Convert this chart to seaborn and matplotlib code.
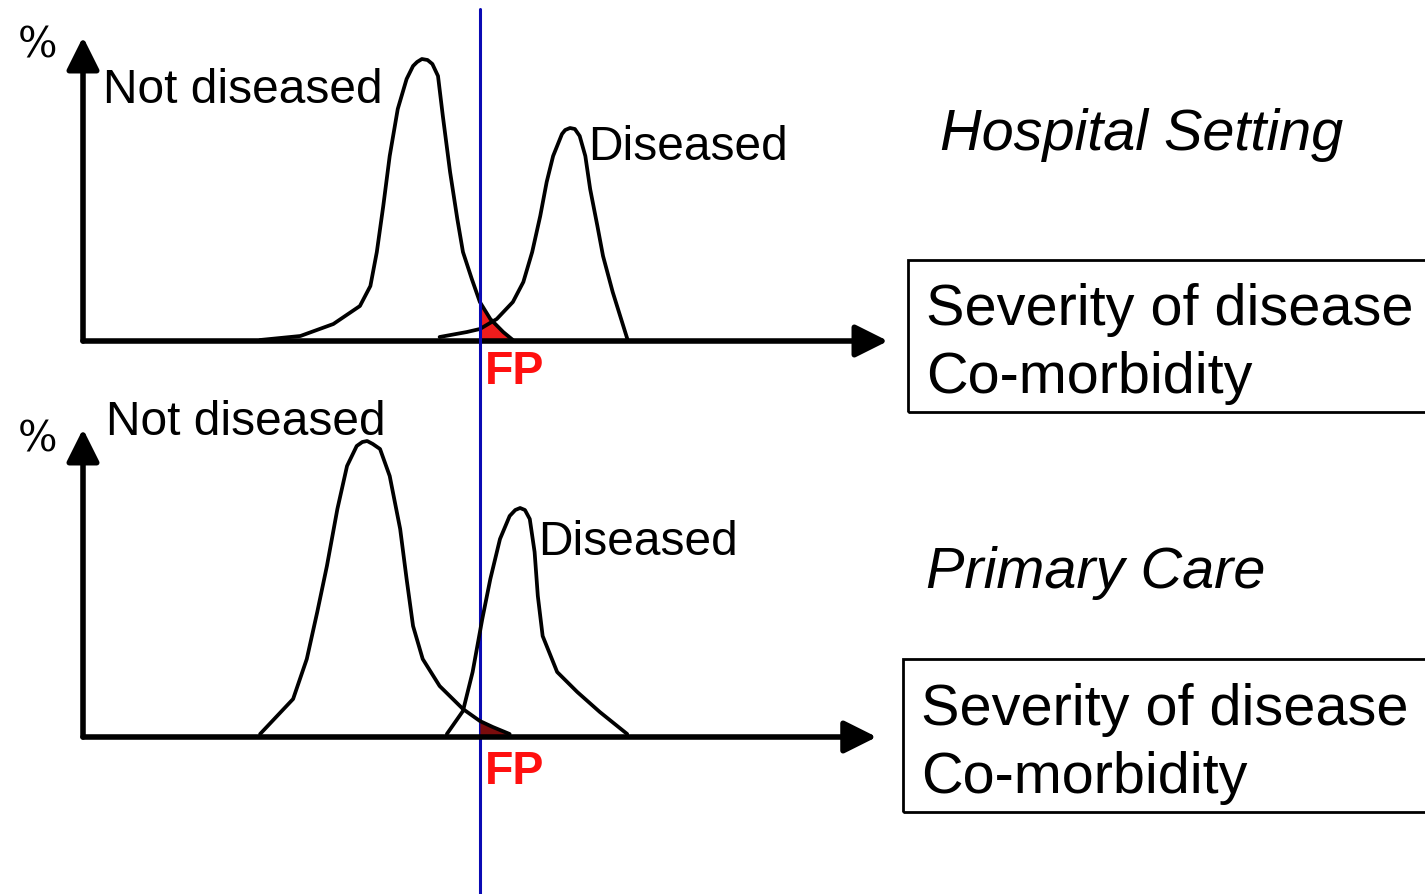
import numpy as np
import matplotlib
matplotlib.use("Agg")
import matplotlib.pyplot as plt
from matplotlib.patches import Rectangle
import seaborn as sns

# severity score (x) and % (y)
cutoff = 49.3

hosp_healthy_x = [22.0, 27.0, 31.1, 34.4, 35.7, 36.5, 37.3, 38.1, 39.1, 40.2, 41.0, 41.5, 42.1,
                  42.8, 43.4, 44.1, 44.7, 45.6, 46.5, 47.2, 48.3, 49.3, 50.6, 52.2, 53.4]
hosp_healthy_y = [0.1, 0.5, 1.7, 3.5, 5.5, 8.9, 13.5, 18.5, 23.2, 26.2, 27.5, 27.9, 28.2,
                  28.1, 27.7, 26.5, 22.5, 16.9, 12.2, 8.9, 6.2, 3.9, 2.2, 0.9, 0.1]
hosp_sick_x = [44.3, 47.7, 49.3, 51.4, 53.4, 54.7, 55.8, 56.8, 57.6, 58.4, 59.5, 59.9, 60.5,
               61.1, 61.7, 62.4, 63.0, 63.9, 64.6, 65.8, 67.7]
hosp_sick_y = [0.4, 0.9, 1.2, 2.2, 3.9, 5.9, 8.9, 12.5, 15.9, 18.5, 20.7, 21.1, 21.3,
               21.2, 20.5, 18.5, 15.2, 11.5, 8.5, 4.9, 0.0]

prim_healthy_x = [22.0, 26.1, 27.8, 29.1, 30.3, 31.6, 32.8, 34.0, 34.7, 35.3, 36.0, 36.9, 38.1,
                  39.4, 40.2, 41.0, 42.2, 44.3, 47.2, 49.3, 50.9, 53.0]
prim_healthy_y = [0.3, 3.8, 7.8, 12.5, 17.1, 22.8, 27.1, 29.1, 29.5, 29.6, 29.3, 28.8, 26.1,
                  20.8, 15.8, 11.1, 7.8, 5.1, 2.8, 1.6, 1.0, 0.3]
prim_sick_x = [45.2, 47.2, 48.4, 49.6, 50.6, 51.8, 53.0, 53.7, 54.3, 54.9, 55.5, 56.1, 56.5,
               57.1, 58.9, 61.4, 64.2, 67.6]
prim_sick_y = [0.3, 2.6, 6.5, 11.8, 15.8, 19.8, 22.1, 22.7, 22.9, 22.7, 21.8, 18.5, 14.1,
               10.1, 6.5, 4.5, 2.5, 0.3]

W, H = 1425, 895
def fx(px):
    return px / W
def fy(py):
    return 1 - py / H

sns.set_style("white")
plt.rcParams['font.family'] = ['Liberation Sans', 'DejaVu Sans']

fig = plt.figure(figsize=(14.25, 8.95), dpi=100)

panels = [
    # axes rect (px), ylim top, x arrow end, data, fill colour
    dict(rect=(83, 342, 805, 304), ytop=30.4, xend=100.0,
         hx=hosp_healthy_x, hy=hosp_healthy_y, sx=hosp_sick_x, sy=hosp_sick_y, fill='#ee1c1c'),
    dict(rect=(83, 738, 805, 308), ytop=30.8, xend=98.6,
         hx=prim_healthy_x, hy=prim_healthy_y, sx=prim_sick_x, sy=prim_sick_y, fill='#7a0c0c'),
]

axes = []
for p in panels:
    l, b, w, h = p['rect']
    ax = fig.add_axes([fx(l), fy(b), w / W, h / H])
    ax.set_xlim(0, 100)
    ax.set_ylim(0, p['ytop'])
    ax.axis('off')

    hx = np.array(p['hx'])
    hy = np.array(p['hy'])
    m = hx >= cutoff
    ax.fill_between(hx[m], hy[m], 0, color=p['fill'], lw=0, zorder=1)

    for xs, ys in [(p['hx'], p['hy']), (p['sx'], p['sy'])]:
        sns.lineplot(x=xs, y=ys, ax=ax, color='black', lw=2.7, sort=False, zorder=2,
                     solid_joinstyle='round', solid_capstyle='round')

    arrow = dict(arrowstyle='-|>,head_length=0.9,head_width=0.45', lw=4, color='black',
                 shrinkA=0, shrinkB=0, mutation_scale=22)
    ax.annotate('', xy=(p['xend'], 0), xytext=(0, 0), arrowprops=arrow,
                annotation_clip=False, zorder=3)
    ax.annotate('', xy=(0, p['ytop']), xytext=(0, 0), arrowprops=arrow,
                annotation_clip=False, zorder=3)
    axes.append(ax)

# cut-off line through both panels
axes[0].axvline(cutoff, ymin=(342 - 895) / 304, ymax=(342 - 10) / 304,
                color='#0a0ab4', lw=2.2, clip_on=False, zorder=4)

lab = dict(fontsize=34.5, color='black', va='baseline', ha='left')
big = dict(fontsize=41.5, color='black', va='baseline', ha='left')
fp = dict(fontsize=33.5, color='#ff1010', fontweight='bold', va='baseline', ha='left')
pct = dict(fontsize=30, color='black', va='baseline', ha='center', family=['DejaVu Serif'])

# top panel
fig.text(fx(37), fy(57), '%', **pct)
fig.text(fx(103), fy(103), 'Not diseased', **lab)
fig.text(fx(588), fy(160), 'Diseased', **lab)
fig.text(fx(485), fy(384), 'FP', **fp)
fig.text(fx(940), fy(150), 'Hospital Setting', style='italic', **big)
fig.text(fx(926), fy(325), 'Severity of disease', **big)
fig.text(fx(926), fy(393), 'Co-morbidity', **big)
fig.patches.append(Rectangle((fx(908), fy(413)), fx(560), (413 - 261) / H, fill=False,
                             lw=2, edgecolor='black', transform=fig.transFigure, figure=fig))

# bottom panel
fig.text(fx(37), fy(452), '%', **pct)
fig.text(fx(106), fy(435), 'Not diseased', **lab)
fig.text(fx(538), fy(555), 'Diseased', **lab)
fig.text(fx(485), fy(784), 'FP', **fp)
fig.text(fx(926), fy(588), 'Primary Care', style='italic', **big)
fig.text(fx(921), fy(725), 'Severity of disease', **big)
fig.text(fx(921), fy(793), 'Co-morbidity', **big)
fig.patches.append(Rectangle((fx(903), fy(813)), fx(560), (813 - 660) / H, fill=False,
                             lw=2, edgecolor='black', transform=fig.transFigure, figure=fig))

fig.savefig('out.png', dpi=100, facecolor='white')
